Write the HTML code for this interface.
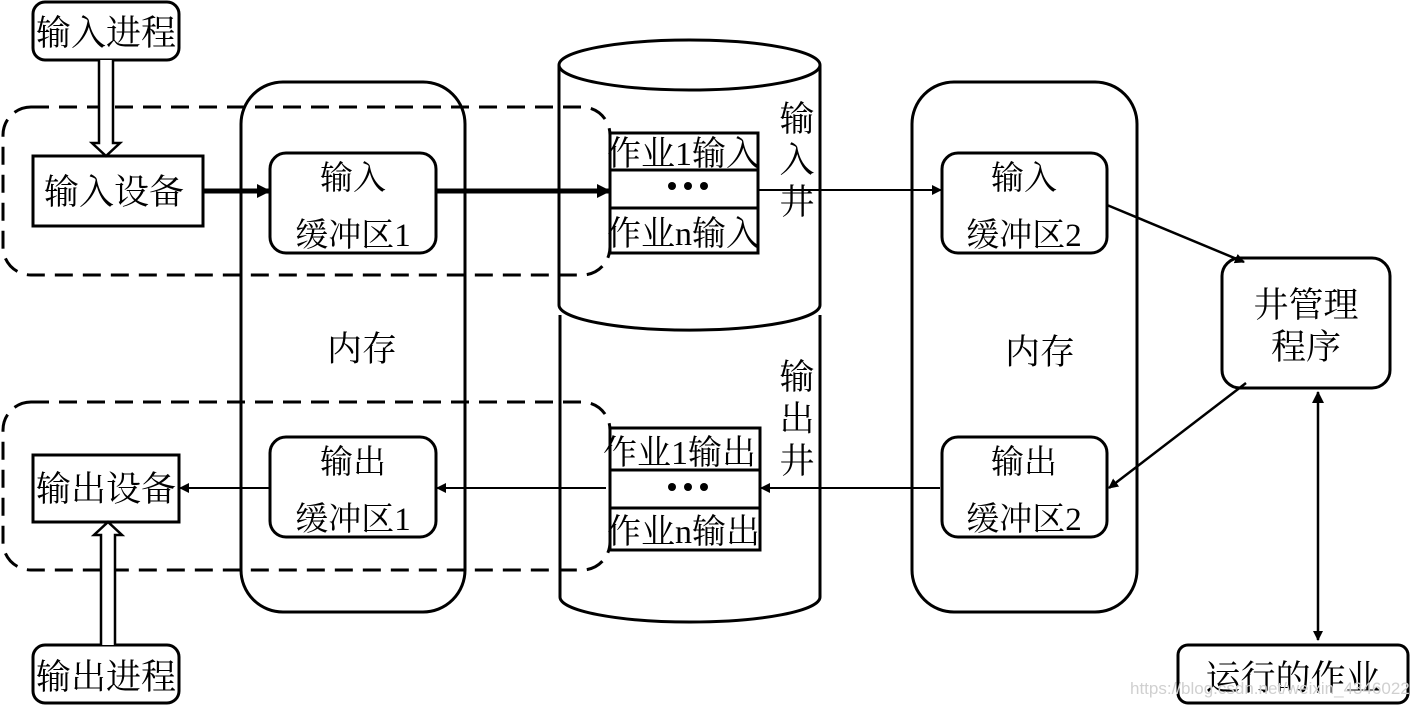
<!DOCTYPE html>
<html><head><meta charset="utf-8"><style>
html,body{margin:0;padding:0;background:#fff;}
svg{display:block;}
text{font-family:"Liberation Serif","Noto Serif CJK SC",serif;fill:#000;}
</style></head><body>
<svg width="1410" height="705" viewBox="0 0 1410 705" xmlns="http://www.w3.org/2000/svg">
<defs>
<marker id="ah" markerWidth="10" markerHeight="10" refX="9" refY="5" orient="auto" markerUnits="userSpaceOnUse">
<path d="M0,0 L10,5 L0,10 z" fill="#000"/></marker>
<marker id="ahb" markerWidth="14" markerHeight="14" refX="13" refY="7" orient="auto" markerUnits="userSpaceOnUse">
<path d="M0,0 L14,7 L0,14 z" fill="#000"/></marker>
<marker id="ahs" markerWidth="12" markerHeight="12" refX="1" refY="6" orient="auto" markerUnits="userSpaceOnUse">
<path d="M12,0 L0,6 L12,12 z" fill="#000"/></marker>
</defs>
<g fill="none" stroke="#000" stroke-width="3">
<rect x="241" y="82" width="224" height="530" rx="42"/>
<rect x="912" y="82" width="225" height="530" rx="42"/>
<path d="M560,315 L560,597 A130,25 0 0 0 820,597 L820,315" fill="#fff"/>
<path d="M559,65 L559,305 A130,25 0 0 0 820,305 L820,65" fill="#fff"/>
<ellipse cx="689.5" cy="65" rx="130.5" ry="25" fill="#fff"/>
<rect x="3" y="107" width="607" height="168" rx="28" stroke-dasharray="18,10"/>
<rect x="3" y="402" width="607" height="168" rx="28" stroke-dasharray="18,10"/>
<rect x="33" y="2" width="146" height="58" rx="12" fill="#fff"/>
<rect x="33" y="156" width="170" height="70" fill="#fff"/>
<rect x="270" y="153" width="166" height="100" rx="16" fill="#fff"/>
<rect x="270" y="437" width="166" height="100" rx="16" fill="#fff"/>
<rect x="33" y="455" width="146" height="67" fill="#fff"/>
<rect x="33" y="645" width="146" height="58" rx="12" fill="#fff"/>
<rect x="942" y="153" width="165" height="100" rx="16" fill="#fff"/>
<rect x="942" y="437" width="165" height="100" rx="16" fill="#fff"/>
<rect x="1222" y="258" width="168" height="130" rx="18" fill="#fff"/>
<rect x="1178" y="645" width="230" height="58" rx="10" fill="#fff"/>
<rect x="610" y="133" width="148" height="120" fill="#fff"/>
<line x1="610" y1="170" x2="758" y2="170"/>
<line x1="610" y1="208" x2="758" y2="208"/>
<rect x="610" y="428" width="150" height="122" fill="#fff"/>
<line x1="610" y1="470" x2="760" y2="470"/>
<line x1="610" y1="508" x2="760" y2="508"/>
</g>
<path d="M99,60 L99,143 L92,143 L106,156 L120,143 L113,143 L113,60" fill="#fff" stroke="#000" stroke-width="2.5"/>
<path d="M101,645 L101,535 L94,535 L108,522 L122,535 L115,535 L115,645" fill="#fff" stroke="#000" stroke-width="2.5"/>
<g stroke="#000" fill="none">
<line x1="203" y1="191" x2="270" y2="191" stroke-width="5" marker-end="url(#ahb)"/>
<line x1="436" y1="191" x2="610" y2="191" stroke-width="5" marker-end="url(#ahb)"/>
<line x1="758" y1="190" x2="941" y2="190" stroke-width="2" marker-end="url(#ah)"/>
<line x1="1107" y1="205" x2="1244" y2="262" stroke-width="2.5" marker-end="url(#ah)"/>
<line x1="1246" y1="383" x2="1109" y2="488" stroke-width="2.5" marker-end="url(#ah)"/>
<line x1="1318" y1="392" x2="1318" y2="640" stroke-width="2.5" marker-end="url(#ah)" marker-start="url(#ahs)"/>
<line x1="940" y1="488" x2="761" y2="488" stroke-width="2" marker-end="url(#ah)"/>
<line x1="606" y1="488" x2="437" y2="488" stroke-width="2" marker-end="url(#ah)"/>
<line x1="270" y1="488" x2="180" y2="488" stroke-width="2" marker-end="url(#ah)"/>
</g>
<g font-size="35">
<text x="106" y="45" text-anchor="middle">输入进程</text>
<text x="114" y="204" text-anchor="middle">输入设备</text>
<text x="353" y="189" text-anchor="middle" font-size="33">输入</text>
<text x="353" y="246" text-anchor="middle" font-size="33">缓冲区1</text>
<text x="353" y="473" text-anchor="middle" font-size="33">输出</text>
<text x="353" y="530" text-anchor="middle" font-size="33">缓冲区1</text>
<text x="106" y="501" text-anchor="middle">输出设备</text>
<text x="106" y="689" text-anchor="middle">输出进程</text>
<text x="362" y="361" text-anchor="middle">内存</text>
<text x="1040" y="364" text-anchor="middle">内存</text>
<text x="1024" y="189" text-anchor="middle" font-size="33">输入</text>
<text x="1024" y="246" text-anchor="middle" font-size="33">缓冲区2</text>
<text x="1024" y="473" text-anchor="middle" font-size="33">输出</text>
<text x="1024" y="530" text-anchor="middle" font-size="33">缓冲区2</text>
<text x="1306" y="317" text-anchor="middle">井管理</text>
<text x="1306" y="359" text-anchor="middle">程序</text>
<text x="1293" y="690" text-anchor="middle">运行的作业</text>
<text x="797" y="131" text-anchor="middle">输</text>
<text x="797" y="172" text-anchor="middle">入</text>
<text x="797" y="214" text-anchor="middle">井</text>
<text x="797" y="389" text-anchor="middle">输</text>
<text x="797" y="431" text-anchor="middle">出</text>
<text x="797" y="473" text-anchor="middle">井</text>
<text x="607" y="165" font-size="34">作业1输入</text>
<text x="607" y="245" font-size="34">作业n输入</text>
<text x="603" y="464" font-size="34">作业1输出</text>
<text x="607" y="543" font-size="34">作业n输出</text>
</g>
<g fill="#000">
<circle cx="672" cy="186" r="4"/><circle cx="688" cy="186" r="4"/><circle cx="704" cy="186" r="4"/>
<circle cx="672" cy="487" r="4"/><circle cx="688" cy="487" r="4"/><circle cx="704" cy="487" r="4"/>
</g>
<text x="1130" y="694" font-size="17" style="fill:#d0d0d0;font-family:'Liberation Sans',sans-serif">https://blog.csdn.net/weixin_43460224</text>
</svg>
</body></html>
